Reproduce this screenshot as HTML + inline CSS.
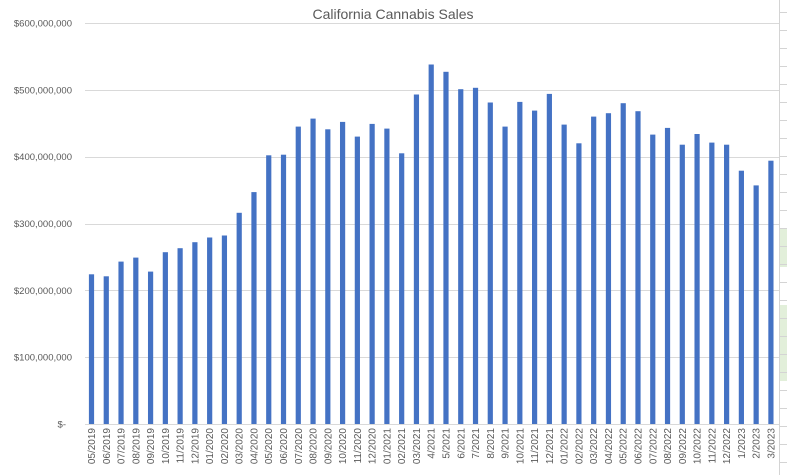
<!DOCTYPE html>
<html><head><style>body{margin:0;background:#fff}svg{display:block}</style></head><body>
<svg id="c" width="787" height="475" xmlns="http://www.w3.org/2000/svg" font-family="Liberation Sans, sans-serif">
<rect width="787" height="475" fill="#fff"/>
<rect x="780" y="229" width="7" height="38" fill="#e2efda"/>
<rect x="780" y="305" width="7" height="76" fill="#e2efda"/>
<line x1="779.5" y1="0" x2="779.5" y2="475" stroke="#d4d4d4"/>
<g id="g"></g>
<g fill="#4472c4">
<rect x="88.9" y="274.3" width="5.2" height="149.7"/>
<rect x="103.67" y="276.3" width="5.2" height="147.7"/>
<rect x="118.44" y="261.6" width="5.2" height="162.4"/>
<rect x="133.21" y="257.6" width="5.2" height="166.4"/>
<rect x="147.98" y="271.6" width="5.2" height="152.4"/>
<rect x="162.75" y="252.2" width="5.2" height="171.8"/>
<rect x="177.52" y="248.2" width="5.2" height="175.8"/>
<rect x="192.29" y="242.2" width="5.2" height="181.8"/>
<rect x="207.06" y="237.5" width="5.2" height="186.5"/>
<rect x="221.83" y="235.5" width="5.2" height="188.5"/>
<rect x="236.6" y="212.8" width="5.2" height="211.2"/>
<rect x="251.37" y="192.1" width="5.2" height="231.9"/>
<rect x="266.14" y="155.3" width="5.2" height="268.7"/>
<rect x="280.91" y="154.7" width="5.2" height="269.3"/>
<rect x="295.68" y="126.6" width="5.2" height="297.4"/>
<rect x="310.45" y="118.6" width="5.2" height="305.4"/>
<rect x="325.22" y="129.3" width="5.2" height="294.7"/>
<rect x="339.99" y="121.9" width="5.2" height="302.1"/>
<rect x="354.76" y="136.6" width="5.2" height="287.4"/>
<rect x="369.53" y="123.9" width="5.2" height="300.1"/>
<rect x="384.3" y="128.6" width="5.2" height="295.4"/>
<rect x="399.07" y="153.3" width="5.2" height="270.7"/>
<rect x="413.84" y="94.5" width="5.2" height="329.5"/>
<rect x="428.61" y="64.5" width="5.2" height="359.5"/>
<rect x="443.38" y="71.8" width="5.2" height="352.2"/>
<rect x="458.15" y="89.2" width="5.2" height="334.8"/>
<rect x="472.92" y="87.8" width="5.2" height="336.2"/>
<rect x="487.69" y="102.5" width="5.2" height="321.5"/>
<rect x="502.46" y="126.6" width="5.2" height="297.4"/>
<rect x="517.23" y="101.9" width="5.2" height="322.1"/>
<rect x="532.0" y="110.6" width="5.2" height="313.4"/>
<rect x="546.77" y="93.9" width="5.2" height="330.1"/>
<rect x="561.54" y="124.6" width="5.2" height="299.4"/>
<rect x="576.31" y="143.3" width="5.2" height="280.7"/>
<rect x="591.08" y="116.6" width="5.2" height="307.4"/>
<rect x="605.85" y="113.2" width="5.2" height="310.8"/>
<rect x="620.62" y="103.2" width="5.2" height="320.8"/>
<rect x="635.39" y="111.2" width="5.2" height="312.8"/>
<rect x="650.16" y="134.6" width="5.2" height="289.4"/>
<rect x="664.93" y="127.9" width="5.2" height="296.1"/>
<rect x="679.7" y="144.7" width="5.2" height="279.3"/>
<rect x="694.47" y="134.0" width="5.2" height="290.0"/>
<rect x="709.24" y="142.6" width="5.2" height="281.4"/>
<rect x="724.01" y="144.7" width="5.2" height="279.3"/>
<rect x="738.78" y="170.7" width="5.2" height="253.3"/>
<rect x="753.55" y="185.4" width="5.2" height="238.6"/>
<rect x="768.32" y="160.7" width="5.2" height="263.3"/>
</g>
<text x="393" y="19" text-anchor="middle" font-size="14" fill="#595959">California Cannabis Sales</text>
</svg>
<script>
var g=document.getElementById('g'),s='';
for(var t=12;t<475;t+=18)s+='<line x1="780" y1="'+t+'.5" x2="787" y2="'+t+'.5" stroke="#d4d4d4"/>';
var labs=['$-','$100,000,000','$200,000,000','$300,000,000','$400,000,000','$500,000,000','$600,000,000'];
for(var i=0;i<7;i++){var y=424-i*66.83;s+='<line x1="85" x2="779" y1="'+(Math.round(y)+0.5)+'" y2="'+(Math.round(y)+0.5)+'" stroke="#d9d9d9"/>';
s+='<text x="'+(i==0?66:72)+'" y="'+(y+3.5)+'" text-anchor="end" font-size="9.5" fill="#595959">'+labs[i]+'</text>';}
var L=['05/2019','06/2019','07/2019','08/2019','09/2019','10/2019','11/2019','12/2019','01/2020','02/2020','03/2020','04/2020','05/2020','06/2020','07/2020','08/2020','09/2020','10/2020','11/2020','12/2020','01/2021','02/2021','03/2021','4/2021','5/2021','6/2021','7/2021','8/2021','9/2021','10/2021','11/2021','12/2021','01/2022','02/2022','03/2022','04/2022','05/2022','06/2022','07/2022','08/2022','09/2022','10/2022','11/2022','12/2022','1/2023','2/2023','3/2023'];
for(var i=0;i<47;i++){var cx=91.5+i*14.77;
s+='<text transform="translate('+(cx+3.5)+',428) rotate(-90)" text-anchor="end" font-size="10" fill="#595959">'+L[i]+'</text>';}
g.innerHTML=s;
</script>
</body></html>
